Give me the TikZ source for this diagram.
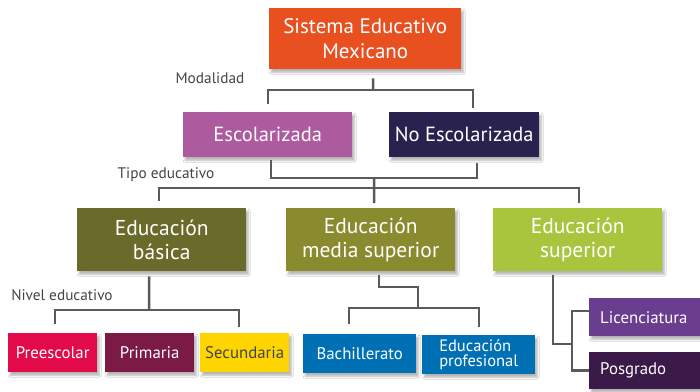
\documentclass[tikz,border=0pt]{standalone}
\usepackage{fontspec}
\setmainfont{PT Sans}
\usetikzlibrary{shadows.blur}
\definecolor{cTop}{HTML}{E85020}
\definecolor{cEsc}{HTML}{AE5A9E}
\definecolor{cNoEsc}{HTML}{29224F}
\definecolor{cBas}{HTML}{6A6A2A}
\definecolor{cMed}{HTML}{8A8A2F}
\definecolor{cSup}{HTML}{A9C53E}
\definecolor{cPre}{HTML}{E30A4A}
\definecolor{cPri}{HTML}{7A1A45}
\definecolor{cSec}{HTML}{FFD500}
\definecolor{cBach}{HTML}{0070B5}
\definecolor{cLic}{HTML}{6A3D8F}
\definecolor{cPos}{HTML}{3B1A49}
\definecolor{cLine}{HTML}{5A5A5A}
\definecolor{cLabel}{HTML}{454545}
\begin{document}
\begin{tikzpicture}[x=1pt,y=-1pt,
  box/.style={rectangle, anchor=north west, inner sep=0pt, text=white, align=center,
    blur shadow={shadow blur steps=6, shadow xshift=2pt, shadow yshift=-3pt, shadow opacity=30}},
  big/.style={font=\fontsize{21}{25}\selectfont},
  mid/.style={font=\fontsize{20.5}{25}\selectfont},
  edu/.style={font=\fontsize{21.5}{24.5}\selectfont},
  small/.style={font=\fontsize{16.8}{18}\selectfont},
  tiny/.style={font=\fontsize{16.5}{15}\selectfont},
  lbl/.style={text=cLabel, font=\fontsize{15.3}{17}\selectfont, inner sep=0pt},
  conn/.style={draw=cLine, line width=2.5pt}]
\useasboundingbox[fill=white] (0,0) rectangle (700,391);

\node[box, big, fill=cTop, minimum width=192pt, minimum height=61pt] (top) at (269,8) {Sistema Educativo\\Mexicano};
\node[box, mid, fill=cEsc, minimum width=169pt, minimum height=45pt] (esc) at (183,112) {Escolarizada};
\node[box, mid, fill=cNoEsc, minimum width=150pt, minimum height=45pt] (noesc) at (389,112) {No Escolarizada};
\node[box, edu, fill=cBas, minimum width=169pt, minimum height=63pt] (bas) at (77,208) {Educación\\básica};
\node[box, edu, fill=cMed, minimum width=169pt, minimum height=63pt] (med) at (286,208) {Educación\\media superior};
\node[box, edu, fill=cSup, minimum width=169pt, minimum height=63pt] (sup) at (493,208) {Educación\\superior};
\node[box, small, fill=cPre, minimum width=89pt, minimum height=39pt] (pre) at (8,333) {Preescolar};
\node[box, small, fill=cPri, minimum width=89pt, minimum height=39pt] (pri) at (105,333) {Primaria};
\node[box, small, fill=cSec, text=cLabel, minimum width=89pt, minimum height=39pt] (sec) at (200,333) {Secundaria};
\node[box, small, fill=cBach, minimum width=113pt, minimum height=39pt] (bach) at (303,334) {Bachillerato};
\node[box, tiny, fill=cBach, minimum width=113pt, minimum height=39pt, align=left] (prof) at (422,335) {Educación\\profesional};
\node[box, small, fill=cLic, minimum width=111pt, minimum height=38pt, inner xsep=11pt, text width=89pt, align=left] (lic) at (589,298) {Licenciatura};
\node[box, small, fill=cPos, minimum width=111pt, minimum height=37pt, inner xsep=11pt, text width=89pt, align=left] (pos) at (589,352) {Posgrado};

\node[lbl] (lmod) at (210,78) {Modalidad};
\node[lbl] (ltipo) at (166,175) {Tipo educativo};
\node[lbl] (lniv) at (62,295) {Nivel educativo};

% Modalidad bracket
\coordinate (j1) at (373,90);
\draw[conn] ([xshift=8pt,yshift=-9pt]top.south) -- (j1);
\draw[conn] ([xshift=0.5pt,yshift=8pt]esc.north) |- (j1) -| ([xshift=9pt,yshift=4pt]noesc.north);

% Tipo bracket
\coordinate (j2) at (374,178);
\coordinate (j3) at (374,188);
\draw[conn] ([xshift=3.5pt,yshift=-3pt]esc.south) |- (j2) -| ([xshift=13pt,yshift=-6pt]noesc.south);
\draw[conn] (j2) -- ([xshift=3.5pt,yshift=5pt]med.north);
\draw[conn] ([xshift=-2.5pt,yshift=7pt]bas.north) |- (j3) -| ([xshift=1.5pt,yshift=5pt]sup.north);

% Nivel bracket
\coordinate (j4) at (149,310);
\draw[conn] ([xshift=-12.5pt,yshift=-5pt]bas.south) -- (j4);
\draw[conn] ([xshift=2.5pt,yshift=9pt]pre.north) |- (j4) -| ([xshift=-5.5pt,yshift=6pt]sec.north);

% Media superior bracket
\coordinate (j5) at (418,308);
\coordinate (j5a) at (418,287);
\draw[conn] ([xshift=8.5pt,yshift=-4pt]med.south) |- (j5a) -- (j5);
\draw[conn] ([xshift=-10.5pt,yshift=10pt]bach.north) |- (j5) -| ([xshift=0.5pt,yshift=8pt]prof.north);

% Superior bracket
\coordinate (j6) at (572,344);
\draw[conn] ([xshift=-24.5pt,yshift=-4pt]sup.south) |- (j6);
\draw[conn] ([yshift=6pt]lic.west) -| (j6) |- (pos.west);
\end{tikzpicture}
\end{document}
